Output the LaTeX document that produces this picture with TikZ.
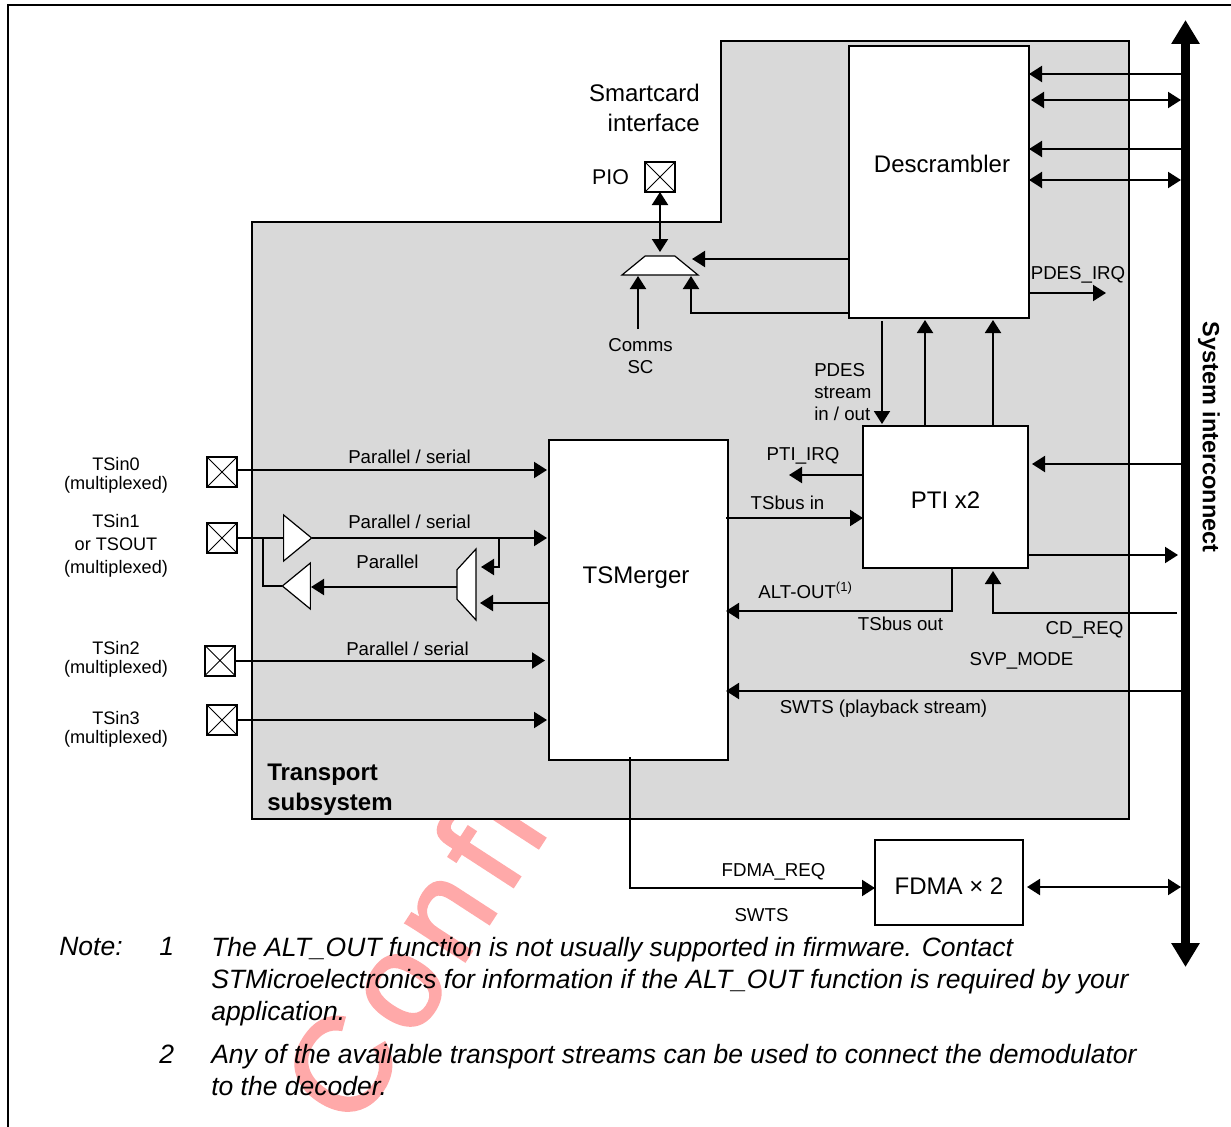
\documentclass[tikz,border=0pt]{standalone}
\usepackage{fontspec}
\setmainfont{Liberation Sans}
\newfontfamily\wmfont[LetterSpace=9,FakeBold=2]{Liberation Sans}
\usetikzlibrary{arrows.meta,shapes.geometric}
\definecolor{subsysgrey}{HTML}{D9D9D9}
\definecolor{wmpink}{HTML}{FFA9A9}
\begin{document}
\begin{tikzpicture}[
    x=0.75pt, y=-0.75pt,
    box/.style={draw, line width=1.5pt, fill=white, align=center, inner sep=0pt, outer sep=0pt},
    pad/.style={draw, line width=1.5pt, fill=white, minimum size=22.5pt, inner sep=0pt, outer sep=0pt,
        path picture={\draw[line width=0.7pt] (path picture bounding box.south west) -- (path picture bounding box.north east)
            (path picture bounding box.north west) -- (path picture bounding box.south east);}},
    buf/.style={draw, line width=0.9pt, fill=white, isosceles triangle, isosceles triangle stretches, minimum width=34.5pt, minimum height=21pt, inner sep=0pt, outer sep=0pt},
    muxv/.style={draw, line width=0.9pt, fill=white, trapezium, trapezium stretches, text width=1pt, text height=1pt, text depth=0pt, inner sep=0pt, outer sep=0pt},
    lab/.style={inner sep=0pt, align=center, font=\fontsize{14}{16.5}\selectfont},
    padlab/.style={inner sep=0pt, align=center, font=\fontsize{13.6}{14.6}\selectfont},
    big/.style={inner sep=0pt, align=right, font=\fontsize{18}{22.5}\selectfont},
    note/.style={inner sep=0pt, anchor=base west, align=left, font=\fontsize{19.88}{24}\selectfont\itshape},
    arr/.style={-{Triangle[length=9.75pt,width=12pt]}, line width=1.5pt},
    darr/.style={{Triangle[length=9.75pt,width=12pt]}-{Triangle[length=9.75pt,width=12pt]}, line width=1.5pt},
    wire/.style={line width=1.5pt},
    bushead/.style={-{Triangle[length=18pt,width=20.25pt]}, line width=6.75pt}
]
\useasboundingbox (0,0) rectangle (1231,1127);
\coordinate (framebl) at (8,1127);
\coordinate (frametl) at (8,5);
\coordinate (frametr) at (1231,5);
\draw[line width=1.8pt] (framebl) -- (frametl) -- (frametr);
\node[text=wmpink, rotate=57, anchor=base west, inner sep=0pt, font=\fontsize{100}{100}\wmfont] (wmark) at (354,1132) {Confi};
\draw[line width=1.5pt, fill=subsysgrey] (252,222) -- (721,222) -- (721,41) -- (1129,41) -- (1129,819) -- (252,819) -- cycle;

\node[box, minimum width=135pt, minimum height=204pt] (descrambler) at (939,182) {};
\node[box, minimum width=123.75pt, minimum height=106.5pt] (pti) at (945.5,497) {};
\node[box, minimum width=134.25pt, minimum height=240pt] (tsmerger) at (638.5,600) {};
\node[box, minimum width=111pt, minimum height=63.75pt] (fdma) at (949,882.5) {};
\node[big] (desclab) at (942,164) {Descrambler};
\node[big] (tsmlab) at (636,578) {TSMerger};
\node[big] (ptilab) at (945.5,500) {PTI x2};
\node[big] (fdmalab) at (949,886) {FDMA × 2};

\node[pad] (pio) at (660,177) {};
\node[pad] (tsin0) at (222,472) {};
\node[pad] (tsin1) at (222,538) {};
\node[pad] (tsin2) at (220,660.5) {};
\node[pad] (tsin3) at (222,720) {};

\node[muxv, trapezium left angle=52, trapezium right angle=52, minimum width=57pt, minimum height=14.25pt] (muxsc) at (660,265.5) {};
\node[muxv, rotate=90, trapezium left angle=55, trapezium right angle=55, minimum width=53.25pt, minimum height=14.25pt] (muxalt) at (466.5,584.5) {};
\node[buf] (bufin) at (294.5,538) {};
\node[buf, rotate=180] (bufout) at (299.5,586) {};

\node[fill=black, inner sep=0pt, outer sep=0pt, minimum width=6.75pt, minimum height=674.25pt] (bus) at (1185.5,493.5) {};
\coordinate (bustop) at (1185.5,20);
\coordinate (busbot) at (1185.5,967);
\draw[bushead] (bus.center) -- (bustop);
\draw[bushead] (bus.center) -- (busbot);
\node[inner sep=0pt, rotate=-90, font=\fontsize{17.6}{20}\selectfont\bfseries] (buslab) at (1209,437) {System interconnect};

\draw[arr] (bus.west |- 0,74) -- (descrambler.east |- 0,74);
\draw[darr] (bus.west |- 0,100) -- (1031,100);
\draw[arr] (bus.west |- 0,149) -- (descrambler.east |- 0,149);
\draw[darr] (bus.west |- 0,180) -- (descrambler.east |- 0,180);
\draw[arr] (descrambler.east |- 0,293) -- (1106,293);
\draw[arr] (descrambler.west |- 0,259) -- (692,259);
\draw[arr] (descrambler.west |- 0,313) -- (691,313) -- (691,276);
\draw[darr] (pio.south) -- (660,252);
\coordinate (commsend) at (638,329);
\draw[arr] (commsend) -- (638,276);

\draw[arr] (882,321) -- (882,424);
\draw[arr] (925,0 |- pti.north) -- (925,320);
\draw[arr] (993,0 |- pti.north) -- (993,320);

\draw[arr] (bus.west |- 0,464) -- (1032,464);
\draw[arr] (pti.east |- 0,555) -- (1178,555);
\draw[arr] (pti.west |- 0,475) -- (789,475);
\draw[arr] (726,518) -- (pti.west |- 0,518);
\draw[arr] (952,0 |- pti.south) -- (952,611) -- (726,611);
\draw[arr] (1177,613) -- (993,613) -- (993,571);
\draw[arr] (bus.west |- 0,691) -- (726,691);

\draw[arr] (tsin0.east |- 0,470) -- (547,470);
\draw[wire] (tsin1.east) -- (bufin.west);
\draw[arr] (bufin.apex) -- (547,538);
\draw[wire] (263,538) -- (263,586) -- (bufout.apex);
\draw[arr] (muxalt.north |- 0,587) -- (311,587);
\draw[arr] (499,538) -- (499,567) -- (481,567);
\draw[arr] (tsmerger.west |- 0,603) -- (480,603);
\draw[arr] (tsin2.east) -- (545,660.5);
\draw[arr] (tsin3.east) -- (547,720);

\draw[arr] (630,757) -- (630,888) -- (fdma.west |- 0,888);
\draw[darr] (bus.west |- 0,887) -- (1027,887);

\node[big, anchor=north east] (smartlab) at (700,84) {Smartcard\\interface};
\node[inner sep=0pt, font=\fontsize{16}{18}\selectfont] (piolab) at (610.5,177) {PIO};
\node[lab] (commslab) at (640.5,356) {Comms\\SC};
\node[lab, align=left, anchor=west] (pdeslab) at (814,392) {PDES\\stream\\in / out};
\node[lab] (pdesirq) at (1078,275) {PDES\_IRQ};
\node[lab] (ptiirq) at (803,456) {PTI\_IRQ};
\node[lab] (tsbusin) at (787.5,503) {TSbus in};
\node[lab] (altout) at (805.5,590) {ALT-OUT\textsuperscript{(1)}};
\node[lab] (tsbusout) at (900.5,624) {TSbus out};
\node[lab] (cdreq) at (1084.5,630) {CD\_REQ};
\node[lab] (svpmode) at (1021.5,661) {SVP\_MODE};
\node[lab] (swtsplay) at (883.5,709) {SWTS (playback stream)};
\node[lab] (par0) at (409.5,457) {Parallel / serial};
\node[lab] (par1) at (409.5,522) {Parallel / serial};
\node[lab] (par2) at (407.5,649) {Parallel / serial};
\node[lab] (parout) at (387.5,562) {Parallel};
\node[lab] (fdmareq) at (773.5,872) {FDMA\_REQ};
\node[lab] (swts) at (761.5,915) {SWTS};
\node[inner sep=0pt, align=left, anchor=north west, font=\fontsize{18}{22.5}\selectfont\bfseries] (translab) at (267,764) {Transport\\subsystem};

\node[padlab] (tsin0lab) at (116,475.5) {TSin0\\(multiplexed)};
\node[padlab, font=\fontsize{13.6}{17.25}\selectfont] (tsin1lab) at (116,545.5) {TSin1\\or TSOUT\\(multiplexed)};
\node[padlab] (tsin2lab) at (116,659.5) {TSin2\\(multiplexed)};
\node[padlab] (tsin3lab) at (116,729.5) {TSin3\\(multiplexed)};

\node[note] (notelab) at (59,955) {Note:};
\node[note] (noteone) at (159,955) {1};
\node[note, anchor=north west] (onetext) at (211,937) {The ALT\_OUT function is not usually supported in firmware. Contact\\STMicroelectronics for information if the ALT\_OUT function is required by your\\application.};
\node[note] (notetwo) at (159,1063) {2};
\node[note, anchor=north west] (twotext) at (211,1044) {Any of the available transport streams can be used to connect the demodulator\\to the decoder.};
\end{tikzpicture}
\end{document}
